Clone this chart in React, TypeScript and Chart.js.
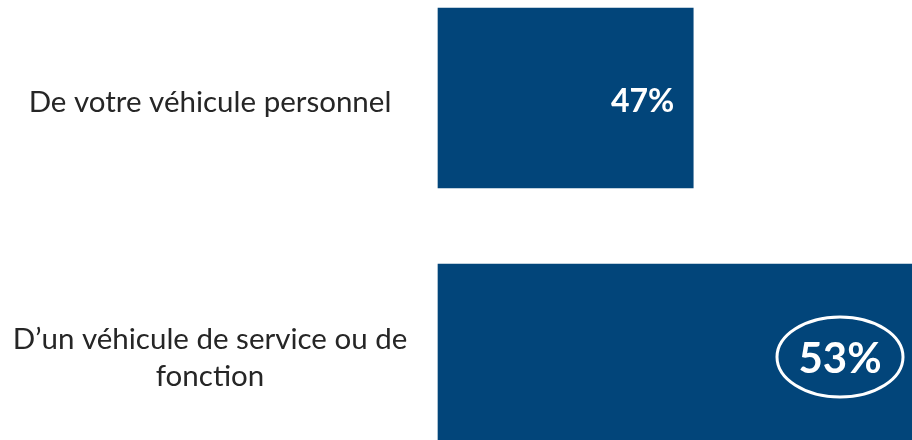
import React, { useEffect, useRef } from "react";
import { Chart, registerables } from "chart.js";

Chart.register(...registerables);

const categories: string[][] = [
  ["De votre véhicule personnel"],
  ["D’un véhicule de service ou de", "fonction"],
];
const values: number[] = [47, 53];
const valueLabels: string[] = ["47%", "53%"];
const highlighted: boolean[] = [false, true];
const axisMin = 40;
const axisMax = 53;

const BAR_COLOR = "#02457a";
const TEXT_COLOR = "#262626";
const FONT = "Lato, 'Open Sans', sans-serif";

const labelPlugin = {
  id: "customLabels",
  afterDatasetsDraw(chart: any) {
    const ctx = chart.ctx;
    const yScale = chart.scales.y;
    const meta = chart.getDatasetMeta(0);
    ctx.save();
    // category labels
    ctx.fillStyle = TEXT_COLOR;
    ctx.font = `29.5px ${FONT}`;
    ctx.textAlign = "center";
    ctx.textBaseline = "middle";
    const lineH = 37;
    categories.forEach((lines, i) => {
      const yc = yScale.getPixelForValue(i) + 4;
      const start = yc - ((lines.length - 1) * lineH) / 2;
      lines.forEach((ln, j) => {
        ctx.fillText(ln, 210, start + j * lineH);
      });
    });
    // value labels
    meta.data.forEach((bar: any, i: number) => {
      ctx.fillStyle = "#ffffff";
      if (highlighted[i]) {
        ctx.font = `bold 42px ${FONT}`;
        const cx = bar.x - 72;
        const cy = bar.y + 3;
        ctx.textAlign = "center";
        ctx.textBaseline = "middle";
        ctx.fillText(valueLabels[i], cx, cy + 2);
        ctx.strokeStyle = "#ffffff";
        ctx.lineWidth = 3;
        ctx.beginPath();
        ctx.ellipse(cx, cy, 63, 40, 0, 0, Math.PI * 2);
        ctx.stroke();
      } else {
        ctx.font = `bold 32px ${FONT}`;
        ctx.textAlign = "right";
        ctx.textBaseline = "middle";
        ctx.fillText(valueLabels[i], bar.x - 19, bar.y + 4);
      }
    });
    ctx.restore();
  },
};

export default function App() {
  const ref = useRef<HTMLCanvasElement>(null);
  useEffect(() => {
    if (!ref.current) return;
    const chart = new Chart(ref.current, {
      type: "bar",
      data: {
        labels: categories.map((c) => c.join(" ")),
        datasets: [
          {
            data: values,
            base: axisMin,
            backgroundColor: BAR_COLOR,
            borderWidth: 0,
            barThickness: 180,
            clip: false,
          } as any,
        ],
      },
      options: {
        indexAxis: "y",
        animation: false,
        responsive: false,
        maintainAspectRatio: false,
        layout: { padding: { left: 438, right: 0, top: 98, bottom: 86 } },
        plugins: { legend: { display: false }, tooltip: { enabled: false } },
        scales: {
          x: { display: false, min: axisMin, max: axisMax },
          y: { display: false, offset: false },
        },
      },
      plugins: [labelPlugin],
    });
    return () => chart.destroy();
  }, []);
  return (
    <div style={{ position: "fixed", left: 0, top: 0, width: 912, height: 440, background: "#fff" }}>
      <canvas ref={ref} width={912} height={440} style={{ width: 912, height: 440, display: "block" }} />
    </div>
  );
}
